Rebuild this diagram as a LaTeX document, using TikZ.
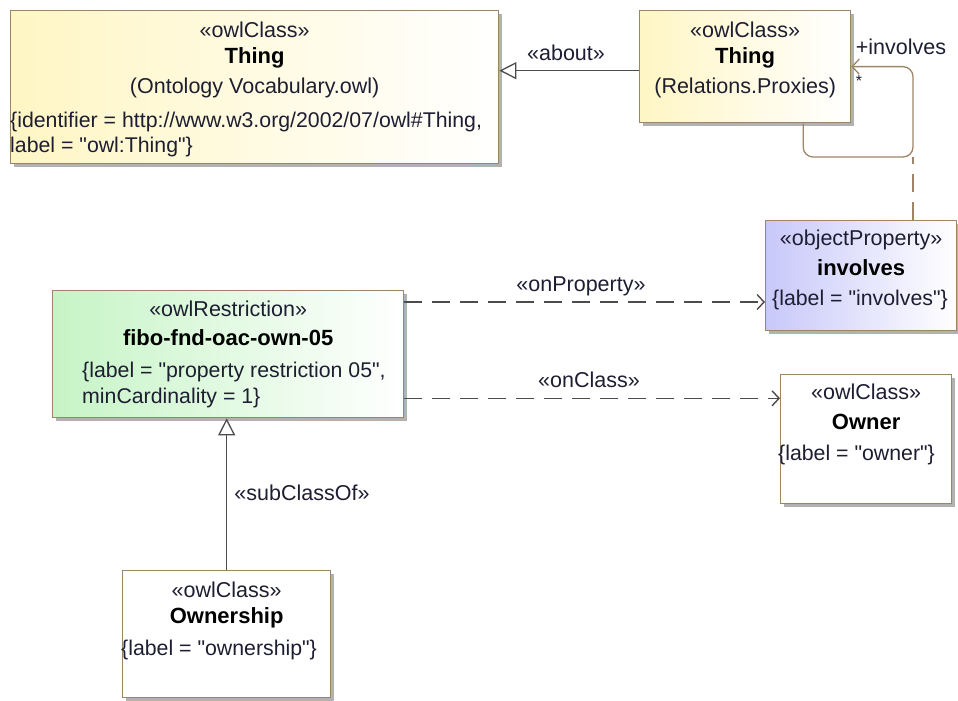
\documentclass[tikz,border=0pt]{standalone}
\usepackage{fontspec}
\setmainfont{Liberation Sans}
\usetikzlibrary{arrows.meta,calc,shadows}

\definecolor{umlborder}{HTML}{A08468}
\definecolor{umlyellow}{HTML}{FFF6C4}
\definecolor{umlgreen}{HTML}{C6F4C6}
\definecolor{umlviolet}{HTML}{C8C8FA}
\definecolor{umltext}{HTML}{1E1E32}

\newcommand{\qt}{\textquotedbl}

\tikzset{
  umlbox/.style={draw=umlborder, line width=1.3pt, anchor=north west, inner sep=0pt,
    drop shadow={shadow xshift=3pt, shadow yshift=-3pt, fill=black!30, opacity=1}},
  stereo/.style={font=\fontsize{21.5}{24}\selectfont, text=umltext, inner sep=0pt},
  title/.style={font=\fontsize{22}{24}\selectfont\bfseries, inner sep=0pt},
  attr/.style={font=\fontsize{21.3}{24}\selectfont, text=umltext, inner sep=0pt, anchor=west},
  gen/.style={draw=black!70, line width=1.3pt, -{Triangle[open, length=17pt, width=17pt, fill=white]}},
  dep/.style={draw=black!70, line width=1.4pt, dash pattern=on 18pt off 10pt,
    -{Straight Barb[length=7pt, width=15pt]}},
  assoc/.style={draw=umlborder, line width=1.3pt, rounded corners=10pt,
    -{Straight Barb[length=7pt, width=15pt]}},
}

\begin{document}
\begin{tikzpicture}[x=1pt, y=-1pt]
  \useasboundingbox (0,0) rectangle (958,701);

  % boxes
  \node[umlbox, left color=umlyellow, right color=white, minimum width=488pt, minimum height=153pt]
    (thingOnt) at (10,10) {};
  \node[umlbox, left color=umlyellow, right color=white, minimum width=211pt, minimum height=112pt]
    (thingRel) at (639,10) {};
  \node[umlbox, left color=umlviolet, right color=white, minimum width=191pt, minimum height=110pt]
    (involves) at (765,220) {};
  \node[umlbox, left color=umlgreen, right color=white, minimum width=351pt, minimum height=127pt]
    (restr) at (52,290) {};
  \node[umlbox, fill=white, minimum width=171pt, minimum height=129pt]
    (owner) at (780,374) {};
  \node[umlbox, fill=white, minimum width=208pt, minimum height=127pt]
    (ownership) at (122,570) {};

  % texts
  \node[stereo] (thingOntSt) at ([yshift=-20pt]thingOnt.north) {«owlClass»};
  \node[title] (thingOntNm) at ([yshift=-48pt]thingOnt.north) {Thing};
  \node[stereo] (thingOntPk) at ([yshift=-78pt]thingOnt.north) {(Ontology Vocabulary.owl)};
  \node[attr] (thingOntA1) at ([yshift=-112pt]thingOnt.north west) {\{identifier = http://www.w3.org/2002/07/owl\#Thing,};
  \node[attr] (thingOntA2) at ([yshift=-137pt]thingOnt.north west) {label = \qt owl:Thing\qt\}};

  \node[stereo] (thingRelSt) at ([yshift=-20pt]thingRel.north) {«owlClass»};
  \node[title] (thingRelNm) at ([yshift=-48pt]thingRel.north) {Thing};
  \node[stereo] (thingRelPk) at ([yshift=-78pt]thingRel.north) {(Relations.Proxies)};

  \node[stereo] (involvesSt) at ([yshift=-20pt]involves.north) {«objectProperty»};
  \node[title] (involvesNm) at ([yshift=-48pt]involves.north) {involves};
  \node[attr] (involvesA1) at ([xshift=7pt, yshift=-80pt]involves.north west) {\{label = \qt involves\qt\}};

  \node[stereo] (restrSt) at ([yshift=-19pt]restr.north) {«owlRestriction»};
  \node[title] (restrNm) at ([yshift=-48pt]restr.north) {fibo-fnd-oac-own-05};
  \node[attr] (restrA1) at ([xshift=30pt, yshift=-82pt]restr.north west) {\{label = \qt property restriction 05\qt ,};
  \node[attr] (restrA2) at ([xshift=30pt, yshift=-108pt]restr.north west) {minCardinality = 1\}};

  \node[stereo] (ownerSt) at ([yshift=-18pt]owner.north) {«owlClass»};
  \node[title] (ownerNm) at ([yshift=-48pt]owner.north) {Owner};
  \node[attr] (ownerA1) at ([xshift=-2pt, yshift=-81pt]owner.north west) {\{label = \qt owner\qt\}};

  \node[stereo] (ownershipSt) at ([yshift=-20pt]ownership.north) {«owlClass»};
  \node[title] (ownershipNm) at ([yshift=-48pt]ownership.north) {Ownership};
  \node[attr] (ownershipA1) at ([xshift=-1pt, yshift=-80pt]ownership.north west) {\{label = \qt ownership\qt\}};

  % connectors
  \draw[gen] ([yshift=-4pt]thingRel.west) -- ([yshift=-4pt]thingRel.west -| thingOnt.east);
  \node[stereo] (aboutLb) at (566,53) {«about»};

  \coordinate (loopFoot) at (913,157);
  \draw[assoc] ([xshift=58pt]thingRel.south) |- (loopFoot) |- (thingRel.east);
  \draw[draw=umlborder, line width=1.3pt, dash pattern=on 18pt off 10pt] (loopFoot |- involves.north) -- (loopFoot);
  \node[stereo] (involvesRole) at (901,47) {+involves};
  \node[stereo, font=\fontsize{16}{18}\selectfont] (involvesMult) at (859,81) {*};

  \draw[dep] ([yshift=-12pt]restr.north east) -- ([yshift=-12pt]restr.north east -| involves.west);
  \node[stereo] (onPropLb) at (581,286) {«onProperty»};

  \draw[dep] ([yshift=20pt]restr.south east) -- ([yshift=20pt]restr.south east -| owner.west);
  \node[stereo] (onClassLb) at (589,380) {«onClass»};

  \draw[gen] (ownership.north) -- (ownership.north |- restr.south);
  \node[stereo] (subClassLb) at (302,493) {«subClassOf»};
\end{tikzpicture}
\end{document}
